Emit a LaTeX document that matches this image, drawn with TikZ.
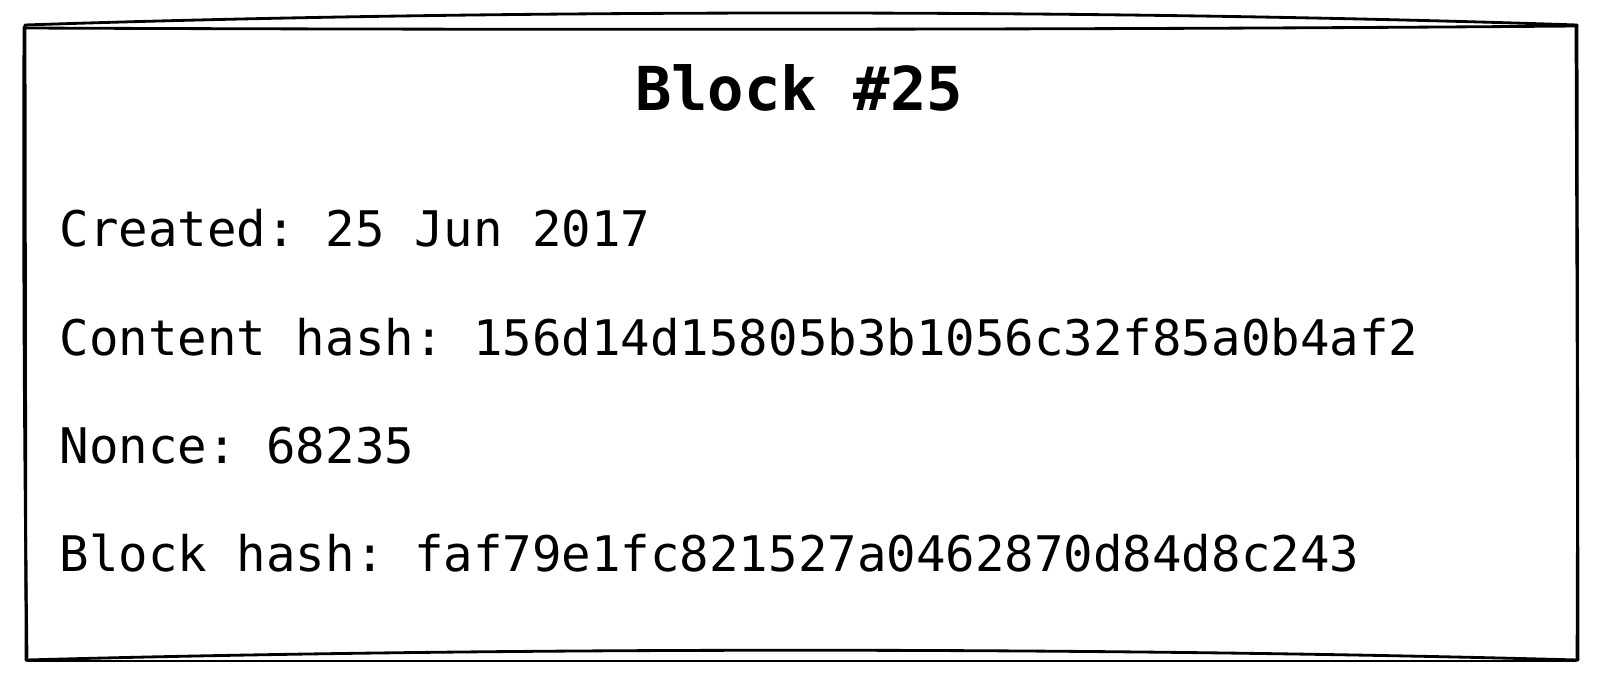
\documentclass[tikz,border=0pt]{standalone}
\usepackage{fontspec}
\setmonofont{DejaVu Sans Mono}
\usetikzlibrary{positioning}

\begin{document}
\begin{tikzpicture}[x=0.01cm, y=-0.01cm,
    sketch/.style={line width=0.8pt, line cap=round, line join=round},
    field/.style={anchor=base west, inner sep=0pt, font=\ttfamily\fontsize{13.95}{16}\selectfont}]
        \useasboundingbox (0,0) rectangle (1600,676);
        % Corners of the block
        \coordinate (tl) at (25,25);
        \coordinate (tr) at (1577,25);
        \coordinate (bl) at (26,660);
        \coordinate (br) at (1578,660);
        % Rough outline, drawn twice
        \draw[sketch] (tl) .. controls (500,9) and (1100,9) .. (tr);
        \draw[sketch] (25,28) .. controls (500,30) and (1100,30) .. (1577,26);
        \draw[sketch] (tl) -- (bl);
        \draw[sketch] (24,27) .. controls (23,300) and (25,500) .. (27,658);
        \draw[sketch] (tr) -- (br);
        \draw[sketch] (1576,27) .. controls (1577,300) and (1578,500) .. (1577,659);
        \draw[sketch] (bl) .. controls (500,647) and (1100,647) .. (br);
        \draw[sketch] (27,661) .. controls (500,661) and (1100,661) .. (1576,661);
        % Title
        \node[anchor=base, inner sep=0pt, font=\ttfamily\bfseries\fontsize{17.2}{20}\selectfont] (title) at (799,111) {Block \#25};
        % Fields
        \node[field] (created) at (59,247) {Created: 25 Jun 2017};
        \node[field] (content) at (59,355) {Content hash: 156d14d15805b3b1056c32f85a0b4af2};
        \node[field] (nonce) at (59,463) {Nonce: 68235};
        \node[field] (blockhash) at (59,571) {Block hash: faf79e1fc821527a0462870d84d8c243};
    \end{tikzpicture}
\end{document}
